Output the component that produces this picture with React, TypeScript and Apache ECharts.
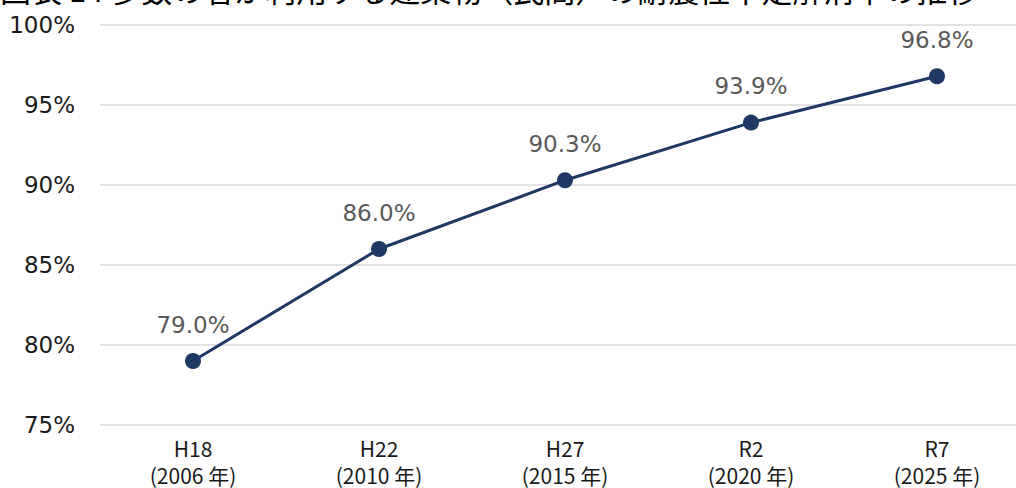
import React, { useEffect, useRef } from "react";
import * as echarts from "echarts";

const titleText = "図表 14 多数の者が利用する建築物（民間）の耐震性不足解消率の推移";
const eraLabels = ["H18", "H22", "H27", "R2", "R7"];
const yearLabels = ["(2006 年)", "(2010 年)", "(2015 年)", "(2020 年)", "(2025 年)"];
const rates = [79.0, 86.0, 90.3, 93.9, 96.8];

const LATIN = '"DejaVu Sans", "Noto Sans CJK JP", sans-serif';
const CJK = '"Noto Sans CJK JP", sans-serif';

export default function App() {
  const ref = useRef<HTMLDivElement>(null);
  useEffect(() => {
    if (!ref.current) return;
    const chart = echarts.init(ref.current, undefined, { renderer: "svg" });
    const categories = eraLabels.map((e, i) => e + "\n" + yearLabels[i]);
    chart.setOption({
      animation: false,
      backgroundColor: "#ffffff",
      graphic: [
        {
          type: "text",
          left: 0,
          top: -27,
          style: {
            text: titleText,
            font: `31px ${CJK}`,
            fill: "#000000",
          },
        },
      ],
      grid: { left: 100, top: 25, width: 930, height: 400, outerBoundsMode: "none", containLabel: false },
      xAxis: {
        type: "category",
        data: categories,
        boundaryGap: true,
        axisLine: { show: false },
        axisTick: { show: false },
        axisLabel: {
          fontFamily: CJK,
          fontSize: 21,
          color: "#1a1a1a",
          lineHeight: 27,
          margin: 9,
        },
      },
      yAxis: {
        type: "value",
        min: 75,
        max: 100,
        interval: 5,
        axisLine: { show: false },
        axisTick: { show: false },
        splitLine: { lineStyle: { color: "#d9d9d9", width: 1.5 } },
        axisLabel: {
          formatter: "{value}%",
          fontFamily: LATIN,
          fontSize: 23,
          color: "#1a1a1a",
          margin: 25,
        },
      },
      series: [
        {
          type: "line",
          data: rates,
          symbol: "circle",
          symbolSize: 16,
          lineStyle: { color: "#1f3864", width: 3 },
          itemStyle: { color: "#1f3864" },
          label: {
            show: true,
            position: "top",
            distance: 17,
            formatter: (p: any) => p.value.toFixed(1) + "%",
            fontFamily: LATIN,
            fontSize: 23,
            color: "#595959",
          },
        },
      ],
    });
    return () => chart.dispose();
  }, []);
  return <div ref={ref} style={{ width: 1016, height: 488, position: "absolute", left: 0, top: 0 }} />;
}
